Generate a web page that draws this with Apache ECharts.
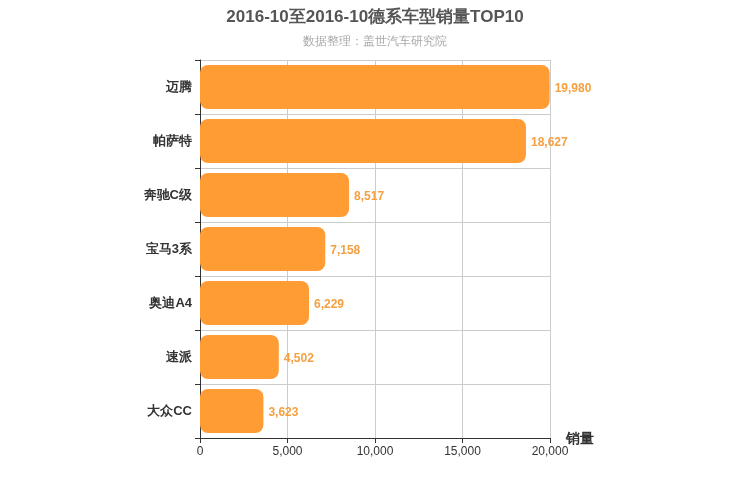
<!DOCTYPE html>
<html><head><meta charset="utf-8">
<script src="https://cdn.jsdelivr.net/npm/echarts@6/dist/echarts.min.js"></script>
<style>html,body{margin:0;padding:0}#c{width:750px;height:500px}</style>
</head><body><div id="c"></div>
<script>
const categories = ['大众CC','速派','奥迪A4','宝马3系','奔驰C级','帕萨特','迈腾'];
const sales = [3623,4502,6229,7158,8517,18627,19980];
const chart = echarts.init(document.getElementById('c'));
chart.setOption({
  title:{text:'2016-10至2016-10德系车型销量TOP10',subtext:'数据整理：盖世汽车研究院',left:'center',top:4,
    textStyle:{fontSize:17,fontWeight:'bold',color:'#555',fontFamily:'Arial'},
    subtextStyle:{fontSize:12,color:'#aaa'},itemGap:10},
  grid:{left:200,right:200,top:60,bottom:62},
  xAxis:{type:'value',min:0,max:20000,interval:5000,name:'销量',nameGap:16,
    nameTextStyle:{fontSize:14,fontWeight:'bold',color:'#333',verticalAlign:'top',padding:[-6,0,0,0]},
    axisLine:{show:true,lineStyle:{color:'#333'}},axisTick:{show:true},
    axisLabel:{color:'#333',fontSize:12},splitLine:{lineStyle:{color:'#ccc'}}},
  yAxis:{type:'category',data:categories,
    axisLine:{lineStyle:{color:'#333'}},axisTick:{show:true},
    axisLabel:{color:'#333',fontSize:13,fontWeight:'bold'},splitLine:{show:true,lineStyle:{color:'#ccc'}}},
  series:[{type:'bar',data:sales,barWidth:44,
    itemStyle:{color:'#FF9C33',borderRadius:8},
    label:{show:true,position:'right',color:'#F5A040',fontSize:12,fontWeight:'bold',offset:[0,2],
      formatter:p=>p.value.toLocaleString('en-US')}}]
});
</script></body></html>
